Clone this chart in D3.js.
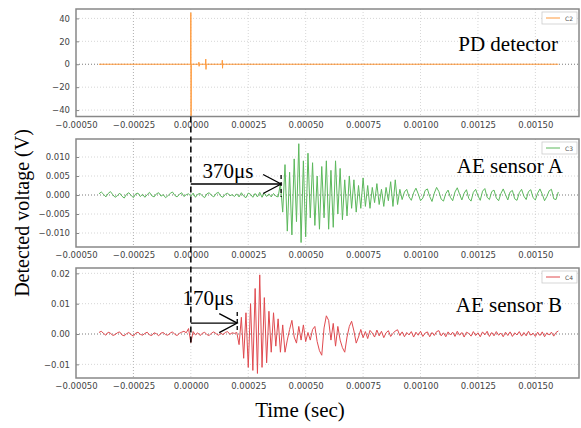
<!DOCTYPE html>
<html>
<head>
<meta charset="utf-8">
<script src="https://cdn.jsdelivr.net/npm/d3@7"></script>
<style>
  body { margin: 0; background: #fff; }
  .tick text { font-family: "DejaVu Sans"; font-size: 8.5px; fill: #444; }
  .domain { display: none; }
  .serif { font-family: "Liberation Serif", "Times New Roman", serif; fill: #000; }
</style>
</head>
<body>
<div id="vis-container"></div>
<script>
// time axis (seconds)
let xTicks = [-0.0005, -0.00025, 0, 0.00025, 0.0005, 0.00075, 0.001, 0.00125, 0.0015];
let sampleStart = -0.0004;   // first sample of AE records
let sampleStep = 0.00001;    // 10 us between samples

// PD detector (C2), volts, sparse points
let pdTime = [-0.0004, -0.000001, 0, 0.000001, 0.000002, 0.000034, 0.000035, 0.000036, 0.000037,
  0.000064, 0.000065, 0.000066, 0.000067, 0.000136, 0.000137, 0.000138, 0.000139, 0.0016];
let pdVolt = [0, 0, 45, -46, 0, 0, 1.8, -1.8, 0, 0, 4.5, -4.5, 0, 0, 3.5, -3.5, 0, 0];

// AE sensor A (C3), millivolts, one value every 10 us from -0.4 ms
let aeA = [
  0.3,0.8,0.2,-0.5,0.4,0.9,0.1,-0.6,-0.2,0.5,
  -0.3,-0.8,0.2,0.6,-0.1,-0.7,0.3,0.5,-0.4,0.2,
  -0.6,0.1,0.7,-0.2,-0.5,0.3,0.6,-0.3,0.1,-0.7,
  -0.2,0.4,0.8,-0.1,-0.5,0.2,0.6,-0.4,0.1,0.3,
  -0.3,0.5,-0.6,0.2,0.4,-0.2,-0.7,0.3,0.6,-0.1,
  -0.5,0.4,0.7,-0.3,-0.6,0.2,0.5,-0.2,0.1,-0.4,
  0.3,-0.5,0.6,-0.3,-0.7,0.5,0.2,-0.6,0.4,-0.5,
  0.7,-0.6,0.5,-0.4,0.3,-0.5,0.4,-0.3,-0.5,3.0,
  -4.5,8.0,-9.5,6.0,-10.5,9.5,-7.0,13.5,-12.5,9.0,
  -11.0,11.0,-6.0,8.5,-8.0,5.0,-9.0,7.5,-6.0,9.0,
  -9.0,6.5,-8.5,9.0,-5.0,7.0,-6.5,4.0,-5.5,5.0,
  -3.5,4.0,-4.5,2.5,-3.5,4.5,-3.0,2.5,-3.5,2.0,
  -2.0,3.0,-2.5,1.5,-3.0,2.0,-1.5,3.5,-3.0,4.0,
  -2.5,1.5,-1.2,0.8,1.5,-0.5,-1.4,0.6,1.8,0.3,
  -1.5,-0.8,1.2,1.6,-0.4,-1.7,0.5,2.0,0.9,-1.1,
  -1.6,0.4,1.3,-0.6,-1.5,0.8,1.9,0.2,-1.3,0.5,
  1.4,-0.9,-1.6,0.7,1.5,-0.2,-1.4,1.0,1.7,-0.6,
  -1.2,0.9,1.3,-0.8,-1.5,0.4,1.6,0.1,-1.3,0.8,
  1.2,-1.0,-1.4,0.6,1.5,-0.3,-1.2,0.9,1.4,-0.7,
  -1.3,0.5,1.6,0.2,-1.5,-0.4,1.1,1.5,-1.0,-1.2,0.8
];

// AE sensor B (C4), millivolts, one value every 10 us from -0.4 ms
let aeB = [
  0.5,0.9,0.2,-0.4,0.6,0.3,-0.5,-0.2,0.4,0.7,
  -0.3,-0.6,0.1,0.5,-0.2,-0.7,0.3,0.6,-0.1,-0.4,
  0.2,0.6,-0.3,-0.5,0.4,0.1,-0.6,0.3,0.5,-0.2,
  -0.4,0.3,0.7,-0.1,-0.5,0.2,0.6,0.9,0.4,1.8,
  -2.8,0.8,-0.3,0.4,-0.5,0.2,0.6,-0.2,-0.5,0.3,
  0.7,0.1,-0.4,0.3,-0.2,0.5,0.8,-0.1,0.4,0.2,
  0.5,-3.5,5.5,-8.0,7.0,-11.0,10.0,-12.0,15.0,-13.0,
  19.5,-11.0,12.0,-9.5,7.5,-6.0,7.0,-4.0,5.0,-6.0,
  3.0,-6.0,-2.0,1.5,4.5,-1.0,-3.0,2.5,-2.0,3.0,
  -2.5,0.5,-2.0,1.5,2.5,-2.5,-5.5,-7.0,2.0,6.0,
  4.5,-2.0,3.5,-4.0,2.5,-2.0,-4.5,-6.0,-1.0,2.5,
  4.2,1.0,-3.0,-1.0,1.5,-1.2,0.8,-1.5,1.2,0.3,
  -1.0,1.3,-0.6,0.9,-1.2,0.4,1.1,-0.8,0.2,1.0,
  1.4,-0.5,0.7,-0.9,0.5,-0.3,0.8,-1.0,0.6,-0.4,
  0.9,-0.8,0.3,0.7,-0.9,0.5,-0.5,0.8,1.1,-0.6,
  0.4,-0.9,0.7,-0.3,0.6,-0.8,0.9,-0.4,0.5,-1.0,
  0.6,0.2,-0.7,0.8,-0.5,0.4,-0.9,0.7,-0.3,0.9,
  -0.8,0.5,-0.6,0.8,-0.4,0.3,-0.9,0.6,-0.5,0.7,
  -0.8,0.4,-0.3,0.8,-0.7,0.5,-0.6,0.9,-0.4,0.3,
  -0.8,0.6,-0.5,0.7,-0.9,0.4,-0.3,0.6,-0.7,0.5,1.0
];

// delay annotations: [arrow end time, arrow height (V), label]
let delayA = [0.000393, 0.0029, "370μs"];
let delayB = [0.000202, 0.0036, "170μs"];

let W = 581, H = 428;
let left = 76, right = 579;

let svg = d3.select("#vis-container")
  .append("svg")
  .attr("width", W)
  .attr("height", H);

let x = d3.scaleLinear()
  .domain([-0.0005, 0.00169])
  .range([left, right]);

let toPoints = arr => arr.map((v, i) => ({t: sampleStart + i * sampleStep, v: v / 1000}));

let panels = [
  {label: "PD detector", legend: "C2", color: "#ff9a3c", top: 9, bottom: 116.5,
   yDomain: [-45.6, 48.2], yTicks: [-40, -20, 0, 20, 40], fmt: d3.format("d"),
   points: pdTime.map((t, i) => ({t: t, v: pdVolt[i]})), labelX: 558, labelY: 51},
  {label: "AE sensor A", legend: "C3", color: "#5cb85c", top: 139, bottom: 247,
   yDomain: [-0.01368, 0.01474], yTicks: [-0.01, -0.005, 0, 0.005, 0.01], fmt: d3.format(".3f"),
   points: toPoints(aeA), labelX: 563, labelY: 173},
  {label: "AE sensor B", legend: "C4", color: "#e04a4f", top: 268, bottom: 378,
   yDomain: [-0.0145, 0.02176], yTicks: [-0.01, 0, 0.01, 0.02], fmt: d3.format(".2f"),
   points: toPoints(aeB), labelX: 562, labelY: 312}
];

let defs = svg.append("defs");

panels.forEach((p, k) => {
  let y = d3.scaleLinear().domain(p.yDomain).range([p.bottom, p.top]);
  p.y = y;
  let g = svg.append("g");

  defs.append("clipPath").attr("id", "clip" + k)
    .append("rect")
    .attr("x", left).attr("y", p.top)
    .attr("width", right - left).attr("height", p.bottom - p.top);

  // grid
  g.selectAll(".vgrid").data(xTicks.slice(1)).enter()
    .append("line")
    .attr("x1", d => x(d)).attr("x2", d => x(d))
    .attr("y1", p.top).attr("y2", p.bottom)
    .attr("stroke", d => d === -0.00025 ? "#999" : "#ccc")
    .attr("stroke-width", 0.8)
    .attr("stroke-dasharray", "1,2");
  g.selectAll(".hgrid").data(p.yTicks).enter()
    .append("line")
    .attr("x1", left).attr("x2", right)
    .attr("y1", d => y(d)).attr("y2", d => y(d))
    .attr("stroke", d => d === 0 ? "#555" : "#ccc")
    .attr("stroke-width", 0.8)
    .attr("stroke-dasharray", "1,2");

  // signal
  let line = d3.line().x(d => x(d.t)).y(d => y(d.v));
  g.append("path")
    .datum(p.points)
    .attr("clip-path", `url(#clip${k})`)
    .attr("d", line)
    .attr("fill", "none")
    .attr("stroke", p.color)
    .attr("stroke-width", 1)
    .attr("stroke-linejoin", "round");

  // frame
  g.append("rect")
    .attr("x", left).attr("y", p.top)
    .attr("width", right - left).attr("height", p.bottom - p.top)
    .attr("fill", "none")
    .attr("stroke", "#888")
    .attr("stroke-width", 1.5);

  // axes
  g.append("g")
    .attr("transform", `translate(${left},0)`)
    .call(d3.axisLeft(y).tickValues(p.yTicks).tickFormat(p.fmt).tickSize(3).tickPadding(3))
    .call(a => a.selectAll("line").attr("stroke", "#888").attr("transform", "translate(3,0)"));
  g.append("g")
    .attr("transform", `translate(0,${p.bottom})`)
    .call(d3.axisBottom(x).tickValues(xTicks).tickFormat(d3.format(".5f")).tickSize(0).tickPadding(5));

  // legend
  let lg = g.append("g").attr("transform", `translate(${right - 37},${p.top + 3})`);
  lg.append("rect").attr("width", 35).attr("height", 12)
    .attr("fill", "#fff").attr("stroke", "#ccc").attr("stroke-width", 0.8);
  lg.append("line").attr("x1", 4).attr("x2", 18).attr("y1", 6).attr("y2", 6)
    .attr("stroke", p.color).attr("stroke-width", 1);
  lg.append("text").attr("x", 23).attr("y", 8.5)
    .attr("font-family", "DejaVu Sans").attr("font-size", "6px").attr("fill", "#555")
    .text(p.legend);

  // panel title
  g.append("text")
    .attr("class", "serif")
    .attr("x", p.labelX).attr("y", p.labelY)
    .attr("text-anchor", "end")
    .attr("font-size", "21px")
    .text(p.label);
});

// trigger line at t = 0
svg.append("line")
  .attr("x1", x(0)).attr("x2", x(0))
  .attr("y1", panels[0].bottom).attr("y2", panels[2].y(-0.003))
  .attr("stroke", "#000").attr("stroke-width", 1.5)
  .attr("stroke-dasharray", "6,4");

// delay arrows
[[panels[1], delayA, -9, 13, 178], [panels[2], delayB, -11, 10, 305]].forEach(([p, d, up, down, ty]) => {
  let x0 = x(0), x1 = x(d[0]), yy = p.y(d[1]);
  svg.append("line")
    .attr("x1", x0).attr("x2", x1).attr("y1", yy).attr("y2", yy)
    .attr("stroke", "#000").attr("stroke-width", 1.3);
  svg.append("path")
    .attr("d", `M${x1 - 18},${yy - 9.5}L${x1},${yy}L${x1 - 18},${yy + 9.5}`)
    .attr("fill", "none").attr("stroke", "#000").attr("stroke-width", 1.3);
  svg.append("line")
    .attr("x1", x1).attr("x2", x1).attr("y1", yy + up).attr("y2", yy + down)
    .attr("stroke", "#000").attr("stroke-width", 1.3)
    .attr("stroke-dasharray", "4,3");
  svg.append("text")
    .attr("class", "serif")
    .attr("x", (x0 + x1) / 2 + (p === panels[1] ? -8 : -6)).attr("y", ty)
    .attr("text-anchor", "middle")
    .attr("font-size", "21px")
    .text(d[2]);
});

// axis titles
svg.append("text")
  .attr("class", "serif")
  .attr("transform", "translate(29,213) rotate(-90)")
  .attr("text-anchor", "middle")
  .attr("font-size", "20px")
  .text("Detected voltage (V)");

svg.append("text")
  .attr("class", "serif")
  .attr("x", 300).attr("y", 417)
  .attr("text-anchor", "middle")
  .attr("font-size", "21px")
  .text("Time (sec)");
</script>
</body>
</html>
